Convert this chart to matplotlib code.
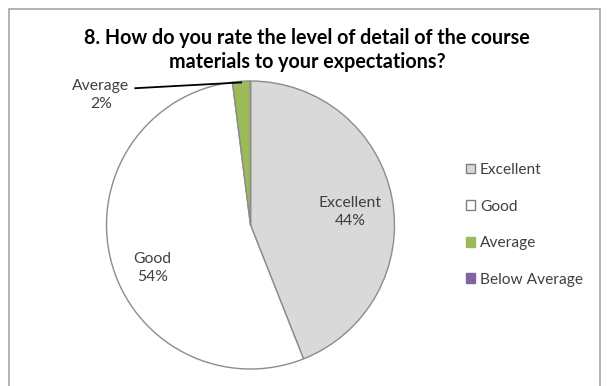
import matplotlib
matplotlib.use("Agg")
import matplotlib.pyplot as plt
from matplotlib.patches import Patch, Rectangle

# survey answers for question 8
categories = ["Excellent", "Good", "Average", "Below Average"]
shares = [44, 54, 2, 0]
colors = ["#D9D9D9", "#FFFFFF", "#9BBB59", "#8064A2"]
title = "8. How do you rate the level of detail of the course\nmaterials to your expectations?"

plt.rcParams["font.family"] = ["Lato", "DejaVu Sans"]

W, H = 610, 386
fig = plt.figure(figsize=(W / 100, H / 100), dpi=100)

# chart area border
fig.patches.append(Rectangle((9 / W, -0.05), 591 / W, 1.05 - 9 / H,
                             transform=fig.transFigure, fill=False,
                             edgecolor="#A6A6A6", linewidth=1.2))

fig.text(307 / W, 1 - 50 / H, title, ha="center", va="center",
         fontsize=14.2, fontweight="bold", linespacing=1.27, color="black")

# pie: centre (250.5, 225) px, radius 144 px
cx, cy, r = 250.5, 225, 144
ax = fig.add_axes([(cx - r) / W, 1 - (cy + r) / H, 2 * r / W, 2 * r / H])
wedges, _ = ax.pie(shares, colors=colors, startangle=90, counterclock=False,
                   wedgeprops=dict(edgecolor="#8C8C8C", linewidth=1.0))
ax.set_xlim(-1, 1)
ax.set_ylim(-1, 1)
ax.set_aspect("equal")
ax.axis("off")

lbl = dict(ha="center", va="center", fontsize=11.3, color="#404040",
           linespacing=1.35)
ax.text(0.69, 0.09, f"{categories[0]}\n{shares[0]}%", **lbl)
ax.text(-0.68, -0.30, f"{categories[1]}\n{shares[1]}%", **lbl)
ax.annotate(f"{categories[2]}\n{shares[2]}%", xy=(-0.065, 0.995),
            xytext=(-1.04, 0.905), annotation_clip=False, **lbl)
ax.plot([-0.80, -0.065], [0.95, 0.99], color="black", linewidth=1.3,
        clip_on=False)

handles = [Patch(facecolor=c, edgecolor="#7F7F7F" if c in ("#D9D9D9", "#FFFFFF") else c)
           for c in colors]
fig.legend(handles, categories, loc="upper left",
           bbox_to_anchor=(466 / W, 1 - 163 / H), frameon=False,
           fontsize=11.2, labelcolor="#404040", handlelength=0.6,
           handleheight=0.6, handletextpad=0.3, labelspacing=1.45,
           borderpad=0, borderaxespad=0)

fig.savefig("out.png", dpi=100)
